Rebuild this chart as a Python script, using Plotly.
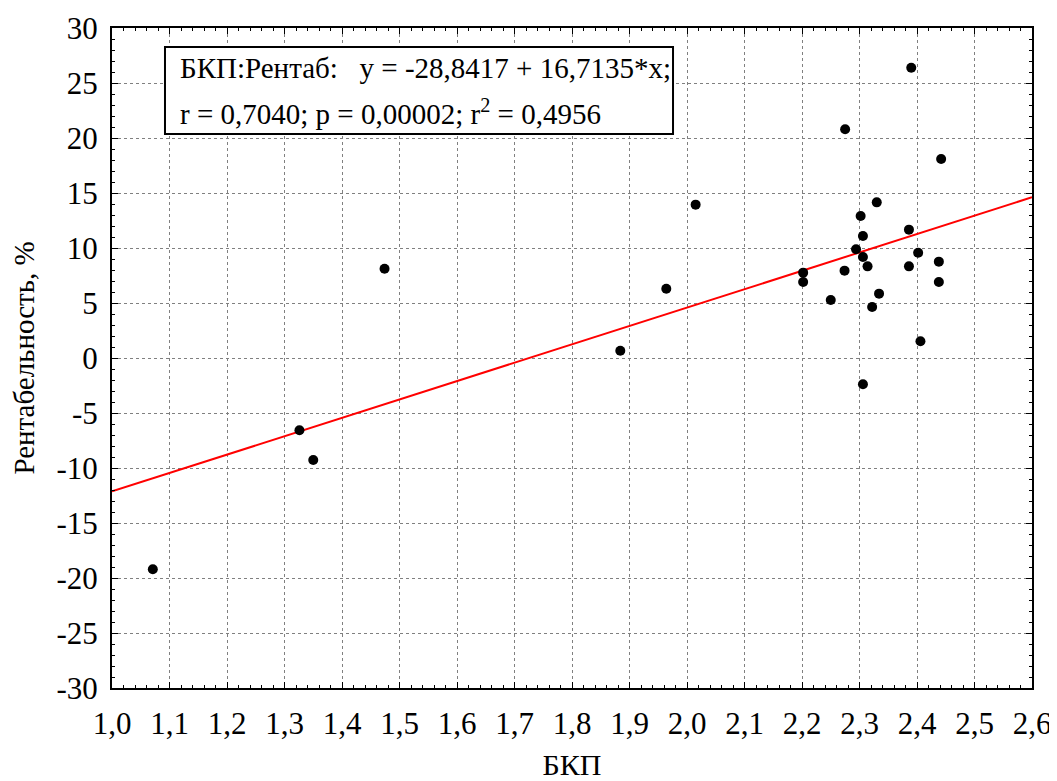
import plotly.graph_objects as go

# Data
bkp = [1.071, 1.326, 1.350, 1.474, 1.884, 1.964, 2.015,
       2.202, 2.202, 2.250, 2.274, 2.275, 2.294, 2.302, 2.306, 2.306, 2.306,
       2.314, 2.322, 2.330, 2.334, 2.386, 2.386, 2.390, 2.402, 2.406,
       2.438, 2.438, 2.442]
rent = [-19.2, -6.57, -9.27, 8.12, 0.66, 6.30, 13.94,
        7.76, 6.91, 5.27, 7.94, 20.79, 9.88, 12.91, 11.09, 9.18, -2.39,
        8.33, 4.64, 14.15, 5.85, 11.67, 8.33, 26.39, 9.57, 1.52,
        8.76, 6.91, 18.09]

intercept = -28.8417
slope = 16.7135
line_x = [1.0, 2.6]

x_ticks = [1.0, 1.1, 1.2, 1.3, 1.4, 1.5, 1.6, 1.7, 1.8, 1.9, 2.0, 2.1, 2.2, 2.3, 2.4, 2.5, 2.6]
x_tick_text = ["1,0", "1,1", "1,2", "1,3", "1,4", "1,5", "1,6", "1,7", "1,8", "1,9",
               "2,0", "2,1", "2,2", "2,3", "2,4", "2,5", "2,6"]
y_ticks = [-30, -25, -20, -15, -10, -5, 0, 5, 10, 15, 20, 25, 30]
y_tick_text = ["-30", "-25", "-20", "-15", "-10", "-5", "0", "5", "10", "15", "20", "25", "30"]

line1 = "БКП:Рентаб:\u00a0\u00a0\u00a0y = -28,8417 + 16,7135*x;"
line2 = "r = 0,7040; p = 0,00002; r<sup>2</sup> = 0,4956"

FONT = "Liberation Serif"

fig = go.Figure()
fig.add_trace(go.Scatter(
    x=line_x, y=[intercept + slope * v for v in line_x],
    mode="lines", line=dict(color="#ff0000", width=2), hoverinfo="skip",
    showlegend=False))
fig.add_trace(go.Scatter(
    x=bkp, y=rent, mode="markers",
    marker=dict(color="black", size=10), showlegend=False))

axis_common = dict(
    showline=True, linecolor="black", linewidth=2, mirror="allticks",
    ticks="inside", ticklen=6, tickwidth=1, tickcolor="black",
    showgrid=True, gridcolor="#808080", griddash="dot", gridwidth=1,
    zeroline=False, automargin=False, ticklabeloverflow="allow",
    tickfont=dict(family=FONT, size=31, color="black"),
)

fig.update_xaxes(
    range=[1.0, 2.6], tickvals=x_ticks, ticktext=x_tick_text,
    minor=dict(ticks="inside", ticklen=3, dtick=0.02, tick0=1.0, tickcolor="black", showgrid=False),
    title=dict(text="БКП", font=dict(family=FONT, size=30, color="black"), standoff=18),
    ticklabelstandoff=7,
    **axis_common)
fig.update_yaxes(
    range=[-30, 30], tickvals=y_ticks, ticktext=y_tick_text,
    minor=dict(ticks="inside", ticklen=3, dtick=1, tick0=0, tickcolor="black", showgrid=False),
    title=dict(text="Рентабельность, %", font=dict(family=FONT, size=29, color="black"), standoff=22),
    ticklabelstandoff=6,
    **axis_common)

# Statistics box
fig.add_shape(type="rect", xref="paper", yref="paper",
              x0=0.0576, x1=0.6098, y0=0.8394, y1=0.9712,
              line=dict(color="black", width=2), fillcolor="white", layer="above")
fig.add_annotation(xref="paper", yref="paper", x=0.0717, y=0.9394,
                   xanchor="left", yanchor="middle", showarrow=False,
                   text=line1, font=dict(family=FONT, size=29, color="black"))
fig.add_annotation(xref="paper", yref="paper", x=0.0717, y=0.8727,
                   xanchor="left", yanchor="middle", showarrow=False,
                   text=line2, font=dict(family=FONT, size=29, color="black"))

# page body has an 8px default margin; size the figure so the plot lands in place
fig.update_layout(
    width=1049, height=773,
    margin=dict(l=104, r=25, t=20, b=93),
    plot_bgcolor="white", paper_bgcolor="white",
    font=dict(family=FONT, size=29, color="black"),
)

fig.write_html("out.html")
